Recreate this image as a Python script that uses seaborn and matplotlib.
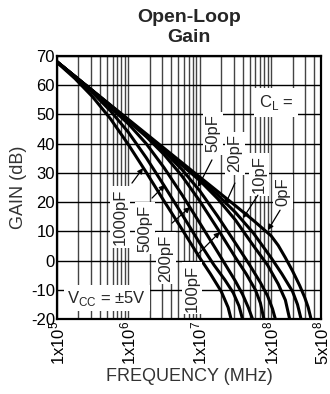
import matplotlib
matplotlib.use("Agg")
import matplotlib.pyplot as plt
import pandas as pd
import seaborn as sns
from matplotlib.ticker import FixedLocator, LogLocator, NullFormatter

# load capacitance of each curve
loads = ["1000pF", "500pF", "200pF", "100pF", "50pF", "20pF", "10pF", "0pF"]

# frequency (Hz) / gain (dB), one pair per curve
freq_1000 = [1e5, 1.78e5, 3.16e5, 5.62e5, 1e6, 1.78e6, 3.16e6, 5.62e6, 1e7, 1.41e7, 2.0e7, 2.5e7, 2.75e7]
gain_1000 = [67.8, 62.3, 56.0, 48.5, 39.7, 30.2, 20.4, 10.8, 1.0, -4.5, -10.5, -16.0, -20.0]

freq_500 = [1e5, 1.78e5, 3.16e5, 5.62e5, 1e6, 1.78e6, 3.16e6, 5.62e6, 1e7, 1.585e7, 2.24e7, 2.95e7, 3.55e7, 3.98e7]
gain_500 = [67.9, 62.8, 57.4, 51.2, 43.9, 35.2, 25.7, 15.9, 6.0, -1.5, -6.5, -11.0, -15.5, -20.0]

freq_200 = [1e5, 3.16e5, 1e6, 1.78e6, 3.16e6, 5.62e6, 1e7, 1.78e7, 3.16e7, 3.98e7, 4.79e7, 5.5e7]
gain_200 = [68.0, 57.9, 46.8, 40.0, 31.8, 22.6, 12.9, 3.0, -7.0, -11.5, -16.0, -20.0]

freq_100 = [1e5, 3.16e5, 1e6, 1.78e6, 3.16e6, 5.62e6, 1e7, 1.78e7, 3.16e7, 4.47e7, 6.03e7, 7.08e7, 7.94e7]
gain_100 = [68.0, 58.0, 47.8, 42.4, 36.3, 29.0, 20.4, 10.9, 1.1, -4.5, -10.0, -14.5, -20.0]

freq_50 = [1e5, 3.16e5, 1e6, 3.16e6, 5.62e6, 1e7, 1.78e7, 3.16e7, 5.01e7, 7.08e7, 8.91e7, 1.047e8, 1.148e8]
gain_50 = [68.0, 58.0, 47.9, 37.4, 31.2, 23.9, 15.2, 6.0, -1.5, -7.5, -12.0, -16.5, -20.0]

freq_20 = [1e5, 1e6, 3.16e6, 1e7, 1.78e7, 3.16e7, 5.62e7, 8.91e7, 1.259e8, 1.585e8, 1.82e8]
gain_20 = [68.0, 48.0, 37.9, 27.4, 21.2, 13.9, 5.2, -1.5, -8.0, -13.5, -20.0]

freq_10 = [1e5, 1e6, 1e7, 1.78e7, 3.16e7, 5.62e7, 1e8, 1.413e8, 1.995e8, 2.344e8, 2.63e8]
gain_10 = [68.0, 48.0, 27.8, 22.5, 16.5, 9.5, 1.0, -4.5, -10.5, -15.0, -20.0]

freq_0 = [1e5, 1e6, 1e7, 3.16e7, 5.62e7, 1e8, 1.259e8, 1.585e8, 1.995e8, 2.512e8, 2.951e8, 3.311e8, 3.631e8]
gain_0 = [68.0, 48.3, 28.6, 18.8, 13.8, 8.5, 5.2, 1.0, -3.5, -8.5, -12.5, -16.0, -20.0]

x_ticks = [1e5, 1e6, 1e7, 1e8, 5e8]
x_tick_labels = [r"$\mathregular{1x10^{5}}$", r"$\mathregular{1x10^{6}}$", r"$\mathregular{1x10^{7}}$",
                 r"$\mathregular{1x10^{8}}$", r"$\mathregular{5x10^{8}}$"]
y_ticks = [-20, -10, 0, 10, 20, 30, 40, 50, 60, 70]

curves = [(freq_1000, gain_1000), (freq_500, gain_500), (freq_200, gain_200), (freq_100, gain_100),
          (freq_50, gain_50), (freq_20, gain_20), (freq_10, gain_10), (freq_0, gain_0)]

rows = []
for load, (fs, gs) in zip(loads, curves):
    for f, g in zip(fs, gs):
        rows.append({"Frequency": f, "Gain": g, "Load": load})
df = pd.DataFrame(rows)

sns.set_style("white")
plt.rcParams["font.family"] = ["Liberation Sans", "DejaVu Sans"]
plt.rcParams["mathtext.fontset"] = "custom"
plt.rcParams["mathtext.rm"] = "Liberation Sans"
plt.rcParams["axes.unicode_minus"] = False

fig = plt.figure(figsize=(3.3, 3.94), dpi=100)
ax = fig.add_axes([0.1727, 0.19, 0.8, 0.668])

sns.lineplot(data=df, x="Frequency", y="Gain", hue="Load", hue_order=loads,
             palette=["black"] * len(loads), estimator=None, sort=False,
             legend=False, lw=2.2, ax=ax, zorder=3)

ax.set_xscale("log")
ax.set_xlim(1e5, 5e8)
ax.set_ylim(-20, 70)
ax.xaxis.set_major_locator(FixedLocator(x_ticks))
ax.set_xticklabels(x_tick_labels, rotation=90, fontsize=12)
ax.xaxis.set_minor_locator(LogLocator(base=10, subs=range(2, 10)))
ax.xaxis.set_minor_formatter(NullFormatter())
ax.set_yticks(y_ticks)
ax.set_yticklabels([str(v) for v in y_ticks], fontsize=12)
ax.tick_params(axis="both", which="both", length=0, pad=1.5, colors="black")

ax.grid(True, axis="x", which="both", color="#444444", lw=1.0, zorder=1)
ax.grid(True, axis="y", which="major", color="black", lw=1.0, zorder=1)
for sp in ax.spines.values():
    sp.set_color("black")
    sp.set_linewidth(1.6)

ax.set_xlabel("FREQUENCY (MHz)", fontsize=13, color="#333333", labelpad=2)
ax.set_ylabel("GAIN (dB)", fontsize=13, color="#333333", labelpad=3)
ax.set_title("Open-Loop\nGain", fontsize=14, fontweight="bold", pad=10)

box = dict(fc="white", ec="none", boxstyle="square,pad=0.15")
# label centre, arrow tail, arrow tip (axes fraction)
label_spots = {
    "1000pF": ((0.239, 0.388), (0.284, 0.517), (0.326, 0.574)),
    "500pF": ((0.333, 0.346), (0.360, 0.460), (0.409, 0.510)),
    "200pF": ((0.413, 0.232), (0.436, 0.365), (0.504, 0.426)),
    "100pF": ((0.511, 0.118), (0.530, 0.243), (0.617, 0.331)),
    "50pF": ((0.591, 0.707), (0.587, 0.605), (0.534, 0.502)),
    "20pF": ((0.674, 0.631), (0.674, 0.517), (0.636, 0.433)),
    "10pF": ((0.765, 0.551), (0.761, 0.471), (0.705, 0.384)),
    "0pF": ((0.856, 0.483), (0.845, 0.414), (0.799, 0.338)),
}
for name, (pos, tail, tip) in label_spots.items():
    ax.text(*pos, name, transform=ax.transAxes, rotation=90, ha="center", va="center",
            fontsize=12, bbox=box, zorder=6)
    ax.annotate("", xy=tip, xytext=tail, xycoords="axes fraction", textcoords="axes fraction",
                arrowprops=dict(arrowstyle="-|>", color="black", lw=0.9, mutation_scale=8,
                                shrinkA=0, shrinkB=0), zorder=7)

ax.text(0.830, 0.825, r"C$_{\mathregular{L}}$ =", transform=ax.transAxes, ha="center", va="center",
        fontsize=12, bbox=dict(fc="white", ec="none", boxstyle="square,pad=0.3"), zorder=6)
ax.text(0.189, 0.080, r"V$_{\mathregular{CC}}$ = ±5V", transform=ax.transAxes, ha="center", va="center",
        fontsize=12, bbox=dict(fc="white", ec="none", boxstyle="square,pad=0.2"), zorder=6)

fig.savefig("out.png", dpi=100)
